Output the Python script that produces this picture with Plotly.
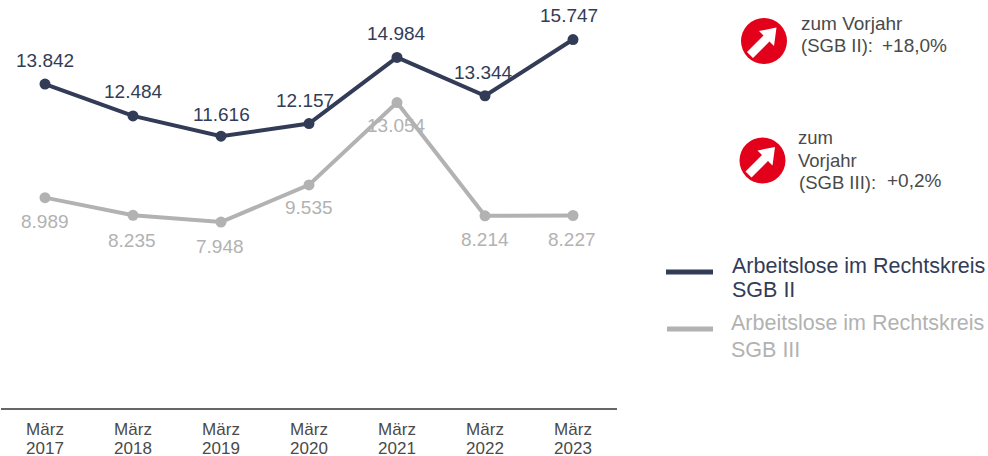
import plotly.graph_objects as go

W, H = 988, 456
FONT = "Liberation Sans"
DARK = "#333c57"
GREY = "#b2b2b2"
RED = "#e2001a"
TEXT = "#4a4a4a"

months = ["März", "März", "März", "März", "März", "März", "März"]
years = ["2017", "2018", "2019", "2020", "2021", "2022", "2023"]
categories = [f"{m} {y}" for m, y in zip(months, years)]
sgb2 = [13842, 12484, 11616, 12157, 14984, 13344, 15747]
sgb3 = [8989, 8235, 7948, 9535, 13054, 8214, 8227]

# label offsets from the point, in pixels (x, y up)
sgb2_shift = [(0, 24), (0, 24), (0, 22), (-4, 23), (-1, 24), (-2, 23), (-4, 24)]
sgb3_shift = [(0, -24), (-1, -25), (-1, -24), (0, -23), (-1, -23), (0, -24), (-1, -24)]


def fmt(v):
    return f"{v:,}".replace(",", ".")


def px(x):
    return x / W


def py(y):
    return 1 - y / H


fig = go.Figure()
for name, vals, color in (("Arbeitslose im Rechtskreis SGB II", sgb2, DARK),
                          ("Arbeitslose im Rechtskreis SGB III", sgb3, GREY)):
    fig.add_trace(go.Scatter(x=categories, y=vals, mode="lines+markers", name=name,
                             line=dict(color=color, width=4),
                             marker=dict(color=color, size=11),
                             hoverinfo="skip"))
# carries the second row of tick labels (the years)
fig.add_trace(go.Scatter(x=categories, y=sgb2, xaxis="x2", mode="lines", opacity=0,
                         showlegend=False, hoverinfo="skip"))

annotations = []
for vals, shifts, color in ((sgb2, sgb2_shift, DARK), (sgb3, sgb3_shift, GREY)):
    for c, v, (dx, dy) in zip(categories, vals, shifts):
        annotations.append(dict(x=c, y=v, xref="x", yref="y", text=fmt(v), showarrow=False,
                                xshift=dx, yshift=dy, xanchor="center", yanchor="middle",
                                font=dict(family=FONT, size=19, color=color)))


def note(x, y, text, color=TEXT, size=19, align="left"):
    annotations.append(dict(x=px(x), y=py(y), xref="paper", yref="paper", text=text,
                            showarrow=False, xanchor="left", yanchor="middle", align=align,
                            borderpad=0, borderwidth=0,
                            font=dict(family=FONT, size=size, color=color)))


note(801, 24, "zum Vorjahr")
note(801, 46, "(SGB II):", size=18.5)
note(882, 45, "+18,0%")
note(798, 137, "zum", size=18.5)
note(798, 160, "Vorjahr", size=18.5)
note(799, 182, "(SGB III):", size=18.5)
note(887, 180, "+0,2%")
note(732, 266, "Arbeitslose im Rechtskreis", DARK, 21.5)
note(732, 290, "SGB II", DARK, 21.5)
note(731, 323, "Arbeitslose im Rechtskreis", GREY, 21.5)
note(731, 349.5, "SGB III", GREY, 21.5)

shapes = []


def icon(cx, cy, r=23):
    shapes.append(dict(type="circle", xref="paper", yref="paper",
                       x0=px(cx - r), x1=px(cx + r), y0=py(cy + r), y1=py(cy - r),
                       fillcolor=RED, line=dict(width=0)))
    arrow = [(12.5, -13.5), (-5, -10), (-0.5, -5.5), (-17, 11), (-11, 17), (5.5, 0.5), (10, 5)]
    d = "M " + " L ".join(f"{px(cx + a)} {py(cy + b)}" for a, b in arrow) + " Z"
    shapes.append(dict(type="path", xref="paper", yref="paper", path=d,
                       fillcolor="white", line=dict(width=0)))


icon(764, 41)
icon(762.5, 160.5)
for x0, x1, y, color in ((666, 713, 272, DARK), (667, 713, 329, GREY)):
    shapes.append(dict(type="line", xref="paper", yref="paper",
                       x0=px(x0), x1=px(x1), y0=py(y), y1=py(y),
                       line=dict(color=color, width=5)))

tick_font = dict(family=FONT, size=17, color=TEXT)
fig.update_layout(
    width=W, height=H, autosize=False, showlegend=False,
    margin=dict(l=0, r=0, t=0, b=0, autoexpand=False),
    paper_bgcolor="white", plot_bgcolor="white",
    xaxis=dict(domain=[px(1), px(617)], type="category", categoryorder="array",
               categoryarray=categories, range=[-0.5, 6.5], automargin=False,
               tickmode="array", tickvals=categories, ticktext=months,
               showgrid=False, zeroline=False, showline=True, linecolor="#666666", linewidth=2,
               ticks="", ticklabelstandoff=5, tickfont=tick_font),
    xaxis2=dict(domain=[px(1), px(617)], type="category", categoryorder="array",
                categoryarray=categories, range=[-0.5, 6.5], overlaying="x", side="bottom",
                anchor="y", automargin=False, tickmode="array", tickvals=categories, ticktext=years,
                showgrid=False, zeroline=False, showline=False,
                ticks="", ticklabelstandoff=28, tickfont=tick_font),
    yaxis=dict(domain=[py(408), 1], range=[0, 17436], visible=False, showgrid=False, zeroline=False),
    annotations=annotations, shapes=shapes,
)
fig.write_html("out.html", config=dict(displayModeBar=False),
               post_script="document.body.style.margin='0';document.body.style.overflow='hidden';")
